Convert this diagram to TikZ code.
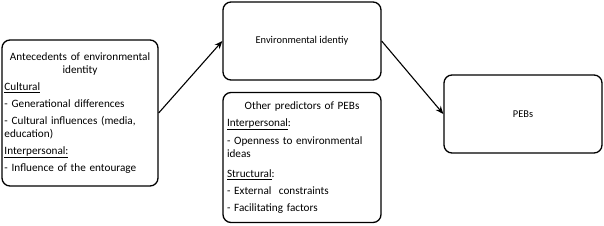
\documentclass[tikz,border=0pt]{standalone}
\usepackage{fontspec}
\setmainfont{Carlito}
\usetikzlibrary{arrows.meta}

\begin{document}
\begin{tikzpicture}[x=1pt, y=1pt, >={Stealth[length=8pt, width=6.5pt]},
    box/.style={draw, line width=1.3pt, rounded corners=8pt, inner xsep=4pt,
      font=\fontsize{10.4}{13}\selectfont},
    txt/.style={text width=150pt, align=left, font=\fontsize{11.2}{13.3}\selectfont},
    link/.style={->, line width=1.1pt}]
    \useasboundingbox (0,0) rectangle (604,-225);

    \node[box, txt, text width=151pt, inner xsep=2.5pt, minimum height=146pt] (ante) at (80,-113)
      {\centering Antecedents of environmental\\identity\par\vspace{3.5pt}
       \raggedright\underline{Cultural}\\[3.5pt]
       - Generational differences\\[3.5pt]
       - Cultural influences (media,\\education)\\[3.5pt]
       \underline{Interpersonal:}\\[3.5pt]
       - Influence of the entourage};

    \node[box, minimum width=158pt, minimum height=78pt] (envid) at (302,-41) {Environmental identiy};

    \node[box, txt, minimum height=130pt] (other) at (302,-157.5)
      {\centering Other predictors of PEBs\par\vspace{4pt}
       \raggedright\underline{Interpersonal}:\\[4.5pt]
       - Openness to environmental\\ideas\\[7pt]
       \underline{Structural}:\\[3.5pt]
       - External\ \ constraints\\[4pt]
       - Facilitating factors};

    \node[box, minimum width=158pt, minimum height=78pt] (pebs) at (523,-114) {PEBs};

    \draw[link] (ante.east) -- (envid.west);
    \draw[link] (envid.east) -- (pebs.west);
\end{tikzpicture}
\end{document}
